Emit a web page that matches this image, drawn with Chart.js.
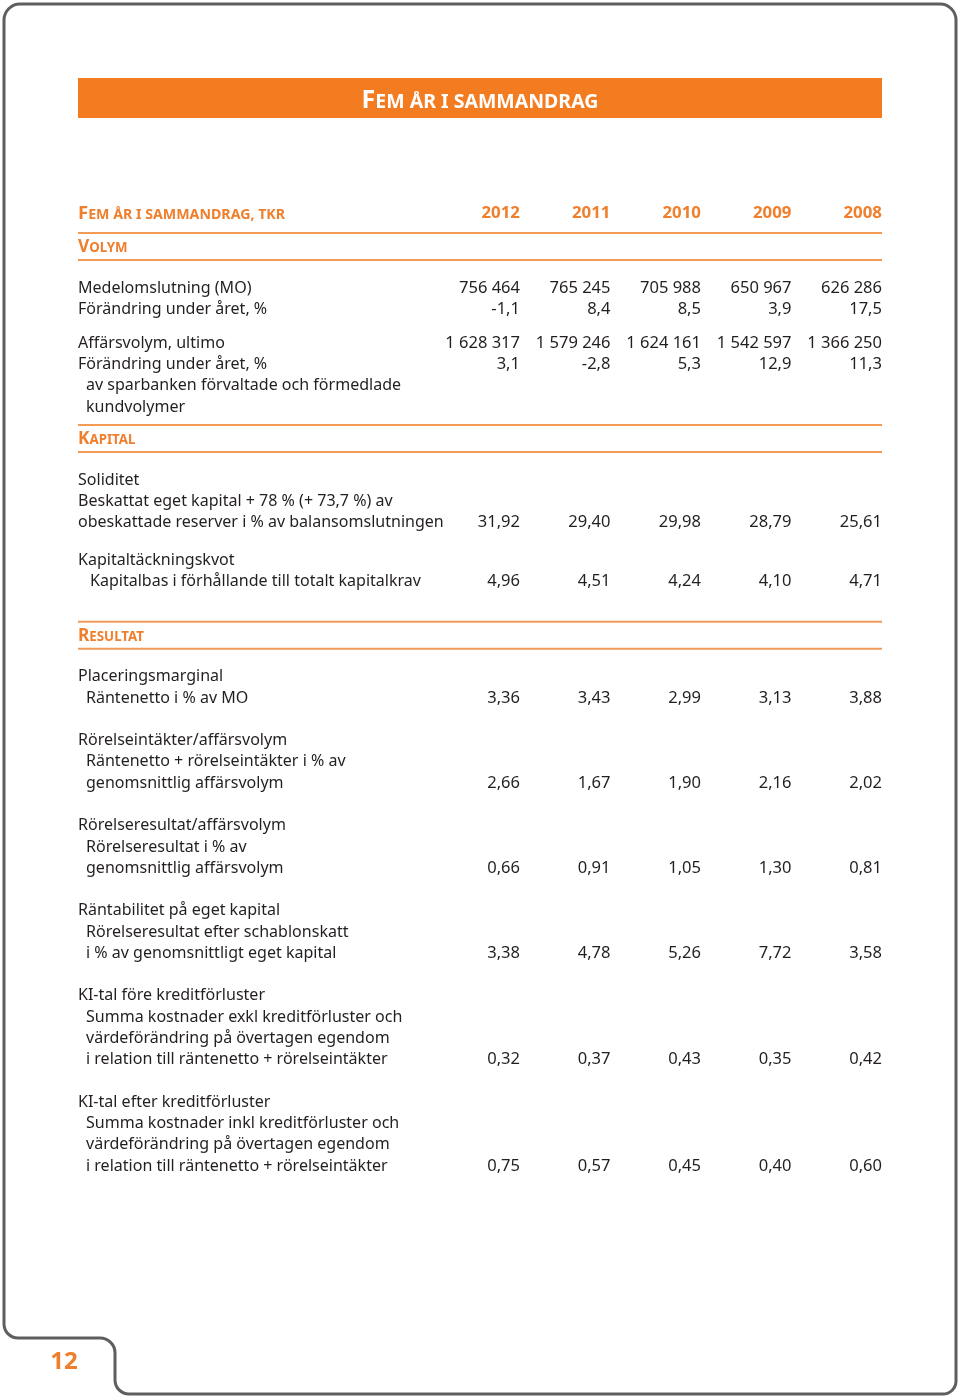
<!DOCTYPE html>
<html lang="sv">
<head>
<meta charset="utf-8">
<title>Fem år i sammandrag</title>
<script src="https://cdn.jsdelivr.net/npm/chart.js@4.4.1/dist/chart.umd.min.js"></script>
<style>
  html, body { margin: 0; padding: 0; background: #fff; }
  #wrap { width: 960px; height: 1399px; }
</style>
</head>
<body>
<div id="wrap"><canvas id="chart" width="960" height="1399"></canvas></div>
<script>
"use strict";

// --- data, tkr and % ---
const years = ['2012', '2011', '2010', '2009', '2008'];
const medelomslutning = [756464, 765245, 705988, 650967, 626286];
const medelForandring = [-1.1, 8.4, 8.5, 3.9, 17.5];
const affarsvolym = [1628317, 1579246, 1624161, 1542597, 1366250];
const affarsForandring = [3.1, -2.8, 5.3, 12.9, 11.3];
const soliditet = [31.92, 29.40, 29.98, 28.79, 25.61];
const kapitaltackning = [4.96, 4.51, 4.24, 4.10, 4.71];
const placeringsmarginal = [3.36, 3.43, 2.99, 3.13, 3.88];
const rorelseintakter = [2.66, 1.67, 1.90, 2.16, 2.02];
const rorelseresultat = [0.66, 0.91, 1.05, 1.30, 0.81];
const rantabilitet = [3.38, 4.78, 5.26, 7.72, 3.58];
const kiFore = [0.32, 0.37, 0.43, 0.35, 0.42];
const kiEfter = [0.75, 0.57, 0.45, 0.40, 0.60];

const pageTitle = 'Fem år i sammandrag';
const tableTitle = 'Fem år i sammandrag, tkr';
const pageNumber = '12';

const sections = [
  { title: 'Volym', before: 21, groupGap: 34, groups: [
    [{ text: 'Medelomslutning (MO)', values: medelomslutning, dec: 0 },
     { text: 'Förändring under året, %', values: medelForandring, dec: 1 }],
    [{ text: 'Affärsvolym, ultimo', values: affarsvolym, dec: 0 },
     { text: 'Förändring under året, %', values: affarsForandring, dec: 1 },
     { text: 'av sparbanken förvaltade och förmedlade', indent: 8 },
     { text: 'kundvolymer', indent: 8 }]
  ]},
  { title: 'Kapital', before: 19, groupGap: 38, groups: [
    [{ text: 'Soliditet' },
     { text: 'Beskattat eget kapital + 78 % (+ 73,7 %) av' },
     { text: 'obeskattade reserver i % av balansomslutningen', values: soliditet, dec: 2 }],
    [{ text: 'Kapitaltäckningskvot' },
     { text: 'Kapitalbas i förhållande till totalt kapitalkrav', indent: 12, values: kapitaltackning, dec: 2 }]
  ]},
  { title: 'Resultat', before: 41, groupGap: 42.6, groups: [
    [{ text: 'Placeringsmarginal' },
     { text: 'Räntenetto i % av MO', indent: 8, values: placeringsmarginal, dec: 2 }],
    [{ text: 'Rörelseintäkter/affärsvolym' },
     { text: 'Räntenetto + rörelseintäkter i % av', indent: 8 },
     { text: 'genomsnittlig affärsvolym', indent: 8, values: rorelseintakter, dec: 2 }],
    [{ text: 'Rörelseresultat/affärsvolym' },
     { text: 'Rörelseresultat i % av', indent: 8 },
     { text: 'genomsnittlig affärsvolym', indent: 8, values: rorelseresultat, dec: 2 }],
    [{ text: 'Räntabilitet på eget kapital' },
     { text: 'Rörelseresultat efter schablonskatt', indent: 8 },
     { text: 'i % av genomsnittligt eget kapital', indent: 8, values: rantabilitet, dec: 2 }],
    [{ text: 'KI-tal före kreditförluster' },
     { text: 'Summa kostnader exkl kreditförluster och', indent: 8 },
     { text: 'värdeförändring på övertagen egendom', indent: 8 },
     { text: 'i relation till räntenetto + rörelseintäkter', indent: 8, values: kiFore, dec: 2 }],
    [{ text: 'KI-tal efter kreditförluster' },
     { text: 'Summa kostnader inkl kreditförluster och', indent: 8 },
     { text: 'värdeförändring på övertagen egendom', indent: 8 },
     { text: 'i relation till räntenetto + rörelseintäkter', indent: 8, values: kiEfter, dec: 2 }]
  ]}
];

// --- layout ---
const FONT = '"Noto Sans", "Open Sans", sans-serif';
const INK = '#231f20';
const ORANGE = '#f47c20';
const ORANGE_TEXT = '#ef7f2c';
const RULE = '#f29b57';
const FRAME = '#5e5e5e';
const LEFT = 78;
const headerY = 212;
const pitch = 21.25;

const lines = [];
const rules = [];
const titles = [];
let cursor = headerY;
sections.forEach(sec => {
  const top = cursor + sec.before;
  rules.push(top, top + 27);
  titles.push({ text: sec.title, y: top + 13 });
  cursor = top + 54;
  sec.groups.forEach((g, gi) => {
    if (gi > 0) cursor += sec.groupGap;
    g.forEach((ln, li) => {
      if (li > 0) cursor += pitch;
      lines.push(Object.assign({ y: cursor }, ln));
    });
  });
});

function fmt(v, dec) {
  const [int, frac] = Math.abs(v).toFixed(dec).split('.');
  const s = int.replace(/\B(?=(\d{3})+(?!\d))/g, ' ');
  return (v < 0 ? '-' : '') + s + (frac ? ',' + frac : '');
}

// small caps by hand: capitals at big size, the rest uppercased at small size
function smallCaps(ctx, text, x, y, big, small, align, color) {
  const runs = [];
  for (const ch of text) {
    const isCap = ch === ch.toUpperCase() && ch !== ch.toLowerCase();
    const size = isCap ? big : small;
    const last = runs[runs.length - 1];
    if (last && last.size === size) last.text += ch.toUpperCase();
    else runs.push({ size, text: ch.toUpperCase() });
  }
  let total = 0;
  runs.forEach(r => {
    ctx.font = `bold ${r.size}px ${FONT}`;
    r.w = ctx.measureText(r.text).width;
    total += r.w;
  });
  let cx = align === 'center' ? x - total / 2 : align === 'right' ? x - total : x;
  ctx.fillStyle = color;
  ctx.textAlign = 'left';
  ctx.textBaseline = 'alphabetic';
  runs.forEach(r => {
    ctx.font = `bold ${r.size}px ${FONT}`;
    ctx.fillText(r.text, cx, y);
    cx += r.w;
  });
}

const datasets = lines.filter(l => l.values).map(l => ({
  label: l.text,
  dec: l.dec,
  data: l.values.map((v, i) => ({ x: i, y: l.y, v })),
  pointRadius: 0,
  showLine: false
}));

const tablePlugin = {
  id: 'table',
  beforeDraw(chart) {
    const ctx = chart.ctx;
    ctx.save();
    ctx.fillStyle = '#fff';
    ctx.fillRect(0, 0, chart.width, chart.height);

    // page frame with the tab for the page number
    ctx.strokeStyle = FRAME;
    ctx.lineWidth = 3;
    ctx.beginPath();
    ctx.moveTo(4, 1322);
    ctx.lineTo(4, 20);
    ctx.arcTo(4, 4, 20, 4, 16);
    ctx.lineTo(940, 4);
    ctx.arcTo(956, 4, 956, 20, 16);
    ctx.lineTo(956, 1381);
    ctx.arcTo(956, 1394, 943, 1394, 13);
    ctx.lineTo(129, 1394);
    ctx.arcTo(115, 1394, 115, 1380, 14);
    ctx.lineTo(115, 1353);
    ctx.arcTo(115, 1338, 100, 1338, 15);
    ctx.lineTo(18, 1338);
    ctx.arcTo(4, 1338, 4, 1324, 14);
    ctx.closePath();
    ctx.stroke();

    ctx.fillStyle = ORANGE;
    ctx.fillRect(LEFT, 78, chart.scales.x.right - LEFT, 40);
    smallCaps(ctx, pageTitle, 480, 108, 25, 19.5, 'center', '#fff');

    ctx.font = `bold 24px ${FONT}`;
    ctx.fillStyle = ORANGE_TEXT;
    ctx.textAlign = 'center';
    ctx.textBaseline = 'middle';
    ctx.fillText(pageNumber, 64, 1362);
    ctx.restore();
  },
  afterDatasetsDraw(chart) {
    const ctx = chart.ctx;
    const xs = chart.scales.x;
    const ys = chart.scales.y;
    const right = xs.right;
    const dy = 1;
    ctx.save();

    // body size fitted to the widest label
    ctx.font = `100px ${FONT}`;
    const body = 100 * 366 / ctx.measureText('obeskattade reserver i % av balansomslutningen').width;

    // header row
    smallCaps(ctx, tableTitle, LEFT, headerY + 7, 18.5, 14.2, 'left', ORANGE_TEXT);
    ctx.font = `bold ${body + 0.8}px ${FONT}`;
    ctx.fillStyle = ORANGE_TEXT;
    ctx.textAlign = 'right';
    ctx.textBaseline = 'middle';
    years.forEach((yr, i) => ctx.fillText(yr, xs.getPixelForValue(i), ys.getPixelForValue(headerY) + dy));

    // section rules and titles
    ctx.strokeStyle = RULE;
    ctx.lineWidth = 2;
    rules.forEach(r => {
      const py = ys.getPixelForValue(r);
      ctx.beginPath();
      ctx.moveTo(LEFT, py);
      ctx.lineTo(right, py);
      ctx.stroke();
    });
    titles.forEach(t => smallCaps(ctx, t.text, LEFT, ys.getPixelForValue(t.y) + 6, 17.3, 13.3, 'left', ORANGE_TEXT));

    // row labels
    ctx.font = `${body}px ${FONT}`;
    ctx.fillStyle = INK;
    ctx.textAlign = 'left';
    ctx.textBaseline = 'middle';
    lines.forEach(l => ctx.fillText(l.text, LEFT + (l.indent || 0), ys.getPixelForValue(l.y) + dy));

    // values, placed by the chart's own scales
    ctx.font = `${body + 0.5}px ${FONT}`;
    ctx.textAlign = 'right';
    chart.data.datasets.forEach((ds, di) => {
      chart.getDatasetMeta(di).data.forEach((pt, i) => {
        ctx.fillText(fmt(ds.data[i].v, ds.dec), pt.x, pt.y + dy);
      });
    });
    ctx.restore();
  }
};

new Chart(document.getElementById('chart'), {
  type: 'scatter',
  data: { datasets },
  options: {
    responsive: false,
    devicePixelRatio: 1,
    animation: false,
    events: [],
    layout: { padding: { left: 520, right: 78, top: 0, bottom: 0 } },
    plugins: { legend: { display: false }, tooltip: { enabled: false } },
    scales: {
      x: { type: 'linear', min: 0, max: 4, display: false },
      y: { type: 'linear', min: 0, max: 1399, reverse: true, display: false }
    }
  },
  plugins: [tablePlugin]
});
</script>
</body>
</html>
